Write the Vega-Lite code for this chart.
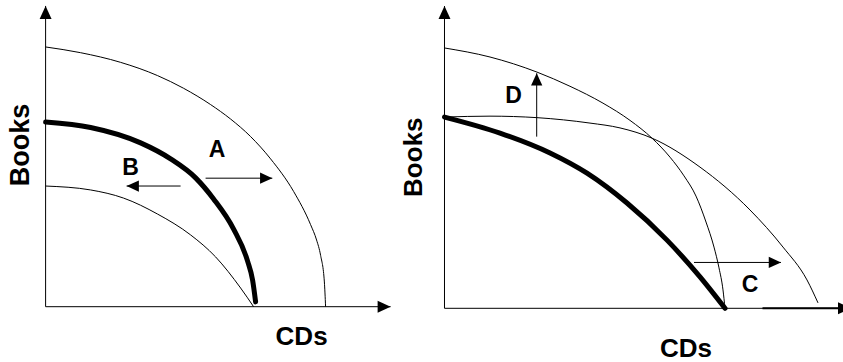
{
  "$schema": "https://vega.github.io/schema/vega-lite/v6.json",
  "padding": 0,
  "spacing": 0,
  "background": "white",
  "config": {"view": {"stroke": null}, "concat": {"spacing": 0}},
  "datasets": {
    "curves": [
      {"panel": "L", "curve": "outer", "cds": 0, "books": 8.61},
      {"panel": "L", "curve": "outer", "cds": 1.167, "books": 8.42},
      {"panel": "L", "curve": "outer", "cds": 2.5, "books": 8.1},
      {"panel": "L", "curve": "outer", "cds": 3.733, "books": 7.66},
      {"panel": "L", "curve": "outer", "cds": 4.6, "books": 7.24},
      {"panel": "L", "curve": "outer", "cds": 5.5, "books": 6.7},
      {"panel": "L", "curve": "outer", "cds": 6.167, "books": 6.22},
      {"panel": "L", "curve": "outer", "cds": 6.833, "books": 5.64},
      {"panel": "L", "curve": "outer", "cds": 7.5, "books": 4.9},
      {"panel": "L", "curve": "outer", "cds": 8.267, "books": 3.82},
      {"panel": "L", "curve": "outer", "cds": 8.833, "books": 2.72},
      {"panel": "L", "curve": "outer", "cds": 9.033, "books": 2.21},
      {"panel": "L", "curve": "outer", "cds": 9.167, "books": 1.7},
      {"panel": "L", "curve": "outer", "cds": 9.292, "books": 0.82},
      {"panel": "L", "curve": "outer", "cds": 9.333, "books": 0},
      {"panel": "L", "curve": "ppf", "cds": 0, "books": 6.12},
      {"panel": "L", "curve": "ppf", "cds": 1.5, "books": 5.94},
      {"panel": "L", "curve": "ppf", "cds": 3.167, "books": 5.43},
      {"panel": "L", "curve": "ppf", "cds": 4.167, "books": 4.9},
      {"panel": "L", "curve": "ppf", "cds": 5.0, "books": 4.27},
      {"panel": "L", "curve": "ppf", "cds": 5.6, "books": 3.57},
      {"panel": "L", "curve": "ppf", "cds": 6.267, "books": 2.57},
      {"panel": "L", "curve": "ppf", "cds": 6.733, "books": 1.51},
      {"panel": "L", "curve": "ppf", "cds": 6.9, "books": 0.88},
      {"panel": "L", "curve": "ppf", "cds": 7.0, "books": 0.16},
      {"panel": "L", "curve": "inner", "cds": 0, "books": 4.0},
      {"panel": "L", "curve": "inner", "cds": 1.5, "books": 3.87},
      {"panel": "L", "curve": "inner", "cds": 2.6, "books": 3.6},
      {"panel": "L", "curve": "inner", "cds": 3.733, "books": 3.07},
      {"panel": "L", "curve": "inner", "cds": 4.833, "books": 2.38},
      {"panel": "L", "curve": "inner", "cds": 5.667, "books": 1.65},
      {"panel": "L", "curve": "inner", "cds": 6.5, "books": 0.62},
      {"panel": "L", "curve": "inner", "cds": 6.933, "books": 0},
      {"panel": "R", "curve": "ppf", "cds": 0, "books": 6.34},
      {"panel": "R", "curve": "ppf", "cds": 1.85, "books": 5.81},
      {"panel": "R", "curve": "ppf", "cds": 3.517, "books": 5.15},
      {"panel": "R", "curve": "ppf", "cds": 4.75, "books": 4.48},
      {"panel": "R", "curve": "ppf", "cds": 6.083, "books": 3.49},
      {"panel": "R", "curve": "ppf", "cds": 7.417, "books": 2.26},
      {"panel": "R", "curve": "ppf", "cds": 8.517, "books": 1.04},
      {"panel": "R", "curve": "ppf", "cds": 9.35, "books": 0},
      {"panel": "R", "curve": "books_up", "cds": 0, "books": 8.63},
      {"panel": "R", "curve": "books_up", "cds": 1.517, "books": 8.33},
      {"panel": "R", "curve": "books_up", "cds": 3.083, "books": 7.83},
      {"panel": "R", "curve": "books_up", "cds": 4.183, "books": 7.36},
      {"panel": "R", "curve": "books_up", "cds": 5.283, "books": 6.8},
      {"panel": "R", "curve": "books_up", "cds": 6.183, "books": 6.23},
      {"panel": "R", "curve": "books_up", "cds": 6.917, "books": 5.64},
      {"panel": "R", "curve": "books_up", "cds": 7.517, "books": 5.01},
      {"panel": "R", "curve": "books_up", "cds": 7.983, "books": 4.39},
      {"panel": "R", "curve": "books_up", "cds": 8.383, "books": 3.72},
      {"panel": "R", "curve": "books_up", "cds": 8.717, "books": 2.86},
      {"panel": "R", "curve": "books_up", "cds": 8.983, "books": 2.03},
      {"panel": "R", "curve": "books_up", "cds": 9.15, "books": 1.34},
      {"panel": "R", "curve": "books_up", "cds": 9.283, "books": 0.61},
      {"panel": "R", "curve": "books_up", "cds": 9.35, "books": 0},
      {"panel": "R", "curve": "cds_out", "cds": 0, "books": 6.34},
      {"panel": "R", "curve": "cds_out", "cds": 1.517, "books": 6.37},
      {"panel": "R", "curve": "cds_out", "cds": 3.083, "books": 6.32},
      {"panel": "R", "curve": "cds_out", "cds": 4.85, "books": 6.14},
      {"panel": "R", "curve": "cds_out", "cds": 5.85, "books": 5.98},
      {"panel": "R", "curve": "cds_out", "cds": 6.917, "books": 5.64},
      {"panel": "R", "curve": "cds_out", "cds": 8.517, "books": 4.68},
      {"panel": "R", "curve": "cds_out", "cds": 10.183, "books": 3.26},
      {"panel": "R", "curve": "cds_out", "cds": 11.283, "books": 2.03},
      {"panel": "R", "curve": "cds_out", "cds": 12.083, "books": 0.94},
      {"panel": "R", "curve": "cds_out", "cds": 12.45, "books": 0.18}
    ],
    "arrows": [
      {"panel": "L", "kind": "axis", "cds": 0, "books": 0, "cds2": 0, "books2": 9.97, "dir": "up"},
      {"panel": "L", "kind": "axis", "cds": 0, "books": 0, "cds2": 11.5, "books2": 0, "dir": "right"},
      {"panel": "L", "kind": "shift", "name": "A", "cds": 5.333, "books": 4.26, "cds2": 7.557, "books2": 4.26, "dir": "right"},
      {"panel": "L", "kind": "shift", "name": "B", "cds": 4.5, "books": 4.0, "cds2": 2.7, "books2": 4.0, "dir": "left"},
      {"panel": "R", "kind": "axis", "cds": 0, "books": 0, "cds2": 0, "books2": 10.02, "dir": "up"},
      {"panel": "R", "kind": "axis", "cds": 0, "books": 0, "cds2": 13.55, "books2": 0, "dir": "right"},
      {"panel": "R", "kind": "axis_bold", "cds": 10.6, "books": 0, "cds2": 13.55, "books2": 0, "dir": "none"},
      {"panel": "R", "kind": "shift", "name": "D", "cds": 3.073, "books": 5.69, "cds2": 3.073, "books2": 7.79, "dir": "up"},
      {"panel": "R", "kind": "shift", "name": "C", "cds": 8.317, "books": 1.52, "cds2": 11.217, "books2": 1.52, "dir": "right"}
    ],
    "labels": [
      {"panel": "L", "role": "ylabel", "text": "Books", "cds": -0.567, "books": 5.36},
      {"panel": "L", "role": "xlabel", "text": "CDs", "cds": 8.533, "books": -1.27},
      {"panel": "L", "role": "shift", "text": "A", "cds": 5.717, "books": 4.96},
      {"panel": "L", "role": "shift", "text": "B", "cds": 2.833, "books": 4.37},
      {"panel": "R", "role": "ylabel", "text": "Books", "cds": -0.75, "books": 5.01},
      {"panel": "R", "role": "xlabel", "text": "CDs", "cds": 8.05, "books": -1.6},
      {"panel": "R", "role": "shift", "text": "D", "cds": 2.3, "books": 6.8},
      {"panel": "R", "role": "shift", "text": "C", "cds": 10.183, "books": 0.54}
    ]
  },
  "hconcat": [
    {
      "width": 400,
      "height": 362,
      "encoding": {
        "x": {"field": "cds", "type": "quantitative", "scale": {"domain": [-1.52, 11.8133], "nice": false, "zero": false}, "axis": null},
        "y": {"field": "books", "type": "quantitative", "scale": {"domain": [-1.8333, 10.1667], "nice": false, "zero": false}, "axis": null}
      },
      "layer": [
        {
          "data": {"name": "arrows"},
          "transform": [{"filter": "datum.panel === 'L' && datum.kind !== 'axis_bold'"}],
          "mark": {"type": "rule", "color": "black", "strokeWidth": 1},
          "encoding": {"x2": {"field": "cds2"}, "y2": {"field": "books2"}}
        },
        {
          "data": {"name": "arrows"},
          "transform": [{"filter": "datum.panel === 'L' && datum.dir !== 'none'"}],
          "mark": {"type": "point", "filled": true, "color": "black", "opacity": 1},
          "encoding": {
            "x": {"field": "cds2", "type": "quantitative"},
            "y": {"field": "books2", "type": "quantitative"},
            "shape": {"field": "dir", "type": "nominal", "scale": {"domain": ["right", "left", "up"], "range": ["M0,0L-1,-0.46L-1,0.46Z", "M0,0L1,-0.46L1,0.46Z", "M0,0L-0.46,1L0.46,1Z"]}, "legend": null},
            "size": {"field": "kind", "type": "ordinal", "scale": {"domain": ["axis", "shift"], "range": [676, 600]}, "legend": null}
          }
        },
        {
          "data": {"name": "curves"},
          "transform": [{"filter": "datum.panel === 'L' && datum.curve !== 'ppf'"}],
          "mark": {"type": "line", "color": "black", "strokeWidth": 1, "interpolate": "monotone"},
          "encoding": {"detail": {"field": "curve"}}
        },
        {
          "data": {"name": "curves"},
          "transform": [{"filter": "datum.panel === 'L' && datum.curve === 'ppf'"}],
          "mark": {"type": "line", "color": "black", "strokeWidth": 5, "strokeCap": "round", "interpolate": "monotone"},
          "encoding": {}
        },
        {
          "data": {"name": "labels"},
          "transform": [{"filter": "datum.panel === 'L' && datum.role === 'ylabel'"}],
          "mark": {"type": "text", "font": "Liberation Sans", "fontWeight": "bold", "fontSize": 27, "angle": 270, "align": "center", "baseline": "alphabetic", "color": "black"},
          "encoding": {"text": {"field": "text"}}
        },
        {
          "data": {"name": "labels"},
          "transform": [{"filter": "datum.panel === 'L' && datum.role === 'xlabel'"}],
          "mark": {"type": "text", "font": "Liberation Sans", "fontWeight": "bold", "fontSize": 26, "align": "center", "baseline": "alphabetic", "color": "black"},
          "encoding": {"text": {"field": "text"}}
        },
        {
          "data": {"name": "labels"},
          "transform": [{"filter": "datum.panel === 'L' && datum.role === 'shift'"}],
          "mark": {"type": "text", "font": "Liberation Sans", "fontWeight": "bold", "fontSize": 23, "align": "center", "baseline": "alphabetic", "color": "black"},
          "encoding": {"text": {"field": "text"}}
        }
      ]
    },
    {
      "width": 443,
      "height": 362,
      "encoding": {
        "x": {"field": "cds", "type": "quantitative", "scale": {"domain": [-1.4833, 13.2833], "nice": false, "zero": false}, "axis": null},
        "y": {"field": "books", "type": "quantitative", "scale": {"domain": [-1.78, 10.22], "nice": false, "zero": false}, "axis": null}
      },
      "layer": [
        {
          "data": {"name": "arrows"},
          "transform": [{"filter": "datum.panel === 'R' && datum.kind !== 'axis_bold'"}],
          "mark": {"type": "rule", "color": "black", "strokeWidth": 1, "clip": true},
          "encoding": {"x2": {"field": "cds2"}, "y2": {"field": "books2"}}
        },
        {
          "data": {"name": "arrows"},
          "transform": [{"filter": "datum.panel === 'R' && datum.kind === 'axis_bold'"}],
          "mark": {"type": "rule", "color": "black", "strokeWidth": 2, "clip": true},
          "encoding": {"x2": {"field": "cds2"}, "y2": {"field": "books2"}}
        },
        {
          "data": {"name": "arrows"},
          "transform": [{"filter": "datum.panel === 'R' && datum.dir !== 'none'"}],
          "mark": {"type": "point", "filled": true, "color": "black", "opacity": 1, "clip": true},
          "encoding": {
            "x": {"field": "cds2", "type": "quantitative"},
            "y": {"field": "books2", "type": "quantitative"},
            "shape": {"field": "dir", "type": "nominal", "scale": {"domain": ["right", "left", "up"], "range": ["M0,0L-1,-0.46L-1,0.46Z", "M0,0L1,-0.46L1,0.46Z", "M0,0L-0.46,1L0.46,1Z"]}, "legend": null},
            "size": {"field": "kind", "type": "ordinal", "scale": {"domain": ["axis", "shift"], "range": [676, 600]}, "legend": null}
          }
        },
        {
          "data": {"name": "curves"},
          "transform": [{"filter": "datum.panel === 'R' && datum.curve !== 'ppf'"}],
          "mark": {"type": "line", "color": "black", "strokeWidth": 1, "interpolate": "monotone"},
          "encoding": {"detail": {"field": "curve"}}
        },
        {
          "data": {"name": "curves"},
          "transform": [{"filter": "datum.panel === 'R' && datum.curve === 'ppf'"}],
          "mark": {"type": "line", "color": "black", "strokeWidth": 5, "strokeCap": "round", "interpolate": "monotone"},
          "encoding": {}
        },
        {
          "data": {"name": "labels"},
          "transform": [{"filter": "datum.panel === 'R' && datum.role === 'ylabel'"}],
          "mark": {"type": "text", "font": "Liberation Sans", "fontWeight": "bold", "fontSize": 26, "angle": 270, "align": "center", "baseline": "alphabetic", "color": "black"},
          "encoding": {"text": {"field": "text"}}
        },
        {
          "data": {"name": "labels"},
          "transform": [{"filter": "datum.panel === 'R' && datum.role === 'xlabel'"}],
          "mark": {"type": "text", "font": "Liberation Sans", "fontWeight": "bold", "fontSize": 26, "align": "center", "baseline": "alphabetic", "color": "black"},
          "encoding": {"text": {"field": "text"}}
        },
        {
          "data": {"name": "labels"},
          "transform": [{"filter": "datum.panel === 'R' && datum.role === 'shift'"}],
          "mark": {"type": "text", "font": "Liberation Sans", "fontWeight": "bold", "fontSize": 23, "align": "center", "baseline": "alphabetic", "color": "black"},
          "encoding": {"text": {"field": "text"}}
        }
      ]
    }
  ],
  "resolve": {"scale": {"x": "independent", "y": "independent"}}
}
